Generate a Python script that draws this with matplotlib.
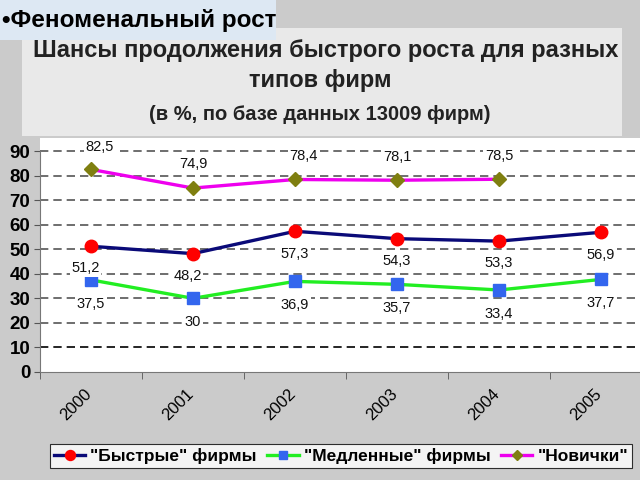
import matplotlib.pyplot as plt
import matplotlib.transforms as mtransforms
from matplotlib.patches import Rectangle

years = ["2000", "2001", "2002", "2003", "2004", "2005"]
fast = [51.2, 48.2, 57.3, 54.3, 53.3, 56.9]
slow = [37.5, 30, 36.9, 35.7, 33.4, 37.7]
novice = [82.5, 74.9, 78.4, 78.1, 78.5]
series_names = ['"Быстрые" фирмы', '"Медленные" фирмы', '"Новички"']

plt.rcParams['font.family'] = ['Liberation Sans', 'DejaVu Sans']

fig = plt.figure(figsize=(6.4, 4.8), dpi=100)
fig.patch.set_facecolor("#cbcbcb")

W, H = 640.0, 480.0


def box(x0, y0, x1, y1, color):
    fig.patches.append(Rectangle((x0 / W, 1 - y1 / H), (x1 - x0) / W, (y1 - y0) / H,
                                 transform=fig.transFigure, facecolor=color,
                                 edgecolor="none", zorder=-5))


box(22, 28, 622, 136, "#e9e9e9")
box(0, 0, 276, 40, "#dde8f3")
box(40, 138, 640, 372, "white")

fig.text(2 / W, 1 - 20 / H, "•Феноменальный рост", fontsize=17.5, fontweight="bold",
         va="center", ha="left")
fig.text(326 / W, 1 - 50 / H, "Шансы продолжения быстрого роста для разных",
         fontsize=17, fontweight="bold", ha="center", va="center", color="#222222")
fig.text(320 / W, 1 - 81 / H, "типов фирм", fontsize=17, fontweight="bold",
         ha="center", va="center", color="#222222")
fig.text(320 / W, 1 - 114 / H, "(в %, по базе данных 13009 фирм)", fontsize=14.5,
         fontweight="bold", ha="center", va="center", color="#222222")

ax = fig.add_axes([40 / W, 1 - 372 / H, 612 / W, 232 / H])
ax.set_zorder(2)
ax.set_facecolor("none")
x = list(range(len(years)))
ax.set_xlim(-0.5, 5.5)
ax.set_ylim(0, 90 * 232 / 221)

for v in range(10, 100, 10):
    ax.axhline(v, color="black" if v == 10 else "#555555", lw=1.2,
               ls=(0, (5, 3)), zorder=1)

l1, = ax.plot(x, fast, color="#0a0a78", lw=2.4, marker="o", ms=9,
              mfc="#ff0000", mec="#ff0000", zorder=3)
l2, = ax.plot(x, slow, color="#22ee22", lw=2.4, marker="s", ms=8,
              mfc="#3366ee", mec="#3366ee", zorder=3)
l3, = ax.plot(x[:len(novice)], novice, color="#ee00ee", lw=2.4, marker="D", ms=7,
              mfc="#7f7f10", mec="#7f7f10", zorder=3)


def fmt(v):
    return ("%g" % v).replace(".", ",")


lab = dict(fontsize=10.5, ha="center", va="center", color="#111111",
           textcoords="offset points", zorder=4,
           bbox=dict(facecolor="white", edgecolor="none", pad=1))
for i, v in enumerate(fast):
    ax.annotate(fmt(v), (i, v), xytext=(-4 if i < 2 else 0, -16), **lab)
for i, v in enumerate(slow):
    ax.annotate(fmt(v), (i, v), xytext=(0, -17), **lab)
for i, v in enumerate(novice):
    ax.annotate(fmt(v), (i, v), xytext=(6 if i in (0, 2) else 0, 16 if i == 0 else 17), **lab)

ax.set_yticks(range(0, 100, 10))
ax.tick_params(axis="y", labelsize=13.5, length=4, color="#555555", pad=3)
for t in ax.get_yticklabels():
    t.set_fontweight("bold")
ax.set_xticks(x)
ax.set_xticklabels(years, rotation=45, fontsize=12, ha="right", va="top",
                   rotation_mode="anchor")
ax.tick_params(axis="x", length=0, pad=10)
shift = mtransforms.ScaledTranslation(-7 / 100, 0, fig.dpi_scale_trans)
for t in ax.get_xticklabels():
    t.set_transform(t.get_transform() + shift)
ax.set_xticks([i + 0.5 for i in range(-1, 6)], minor=True)
ax.tick_params(axis="x", which="minor", length=5, color="#555555")

for s in ("top", "right"):
    ax.spines[s].set_visible(False)
ax.spines["left"].set_bounds(0, 90)
ax.spines["left"].set_color("#777777")
ax.spines["bottom"].set_color("#777777")

leg = fig.legend([l1, l2, l3], series_names, loc="center",
                 bbox_to_anchor=(341 / W, 1 - 456 / H), ncol=3, fontsize=12.5,
                 frameon=True, fancybox=False, edgecolor="black",
                 handlelength=1.8, handletextpad=0.3, columnspacing=0.6,
                 borderpad=0.25, markerscale=0.8)
leg.get_frame().set_linewidth(0.8)
for t in leg.get_texts():
    t.set_fontweight("bold")

fig.savefig("out.png", dpi=100, facecolor=fig.get_facecolor())
